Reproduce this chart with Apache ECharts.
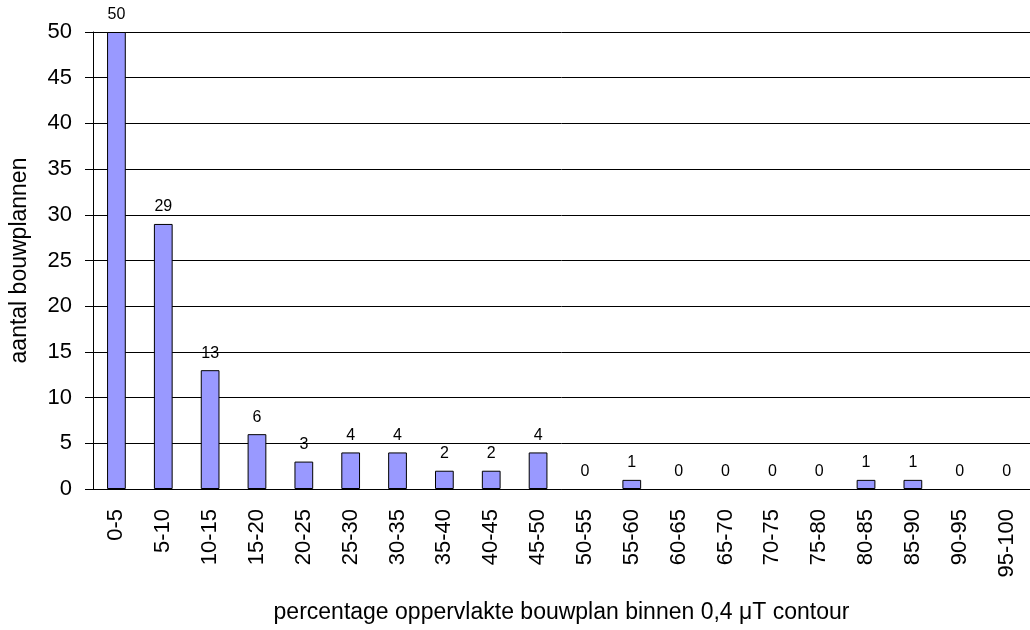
<!DOCTYPE html>
<html>
<head>
<meta charset="utf-8">
<script src="https://cdn.jsdelivr.net/npm/echarts@6/dist/echarts.min.js"></script>
<style>
  html, body { margin: 0; padding: 0; background: #fff; }
  #chart { width: 1030px; height: 630px; }
</style>
</head>
<body>
<div id="chart"></div>
<script>
var categories = ['0-5','5-10','10-15','15-20','20-25','25-30','30-35','35-40','40-45','45-50',
    '50-55','55-60','60-65','65-70','70-75','75-80','80-85','85-90','90-95','95-100'];
var counts = [50, 29, 13, 6, 3, 4, 4, 2, 2, 4, 0, 1, 0, 0, 0, 0, 1, 1, 0, 0];

// zero-height bars get no outline, as in the original
var barData = counts.map(function (v) {
    return v === 0 ? { value: v, itemStyle: { borderWidth: 0 } } : v;
});

var myChart = echarts.init(document.getElementById('chart'));
var font = 'Liberation Sans, Arial, sans-serif';
var option = {
    animation: false,
    textStyle: { fontFamily: font, color: '#000' },
    grid: { left: 93, right: -3, top: 32, bottom: 141 },
    xAxis: {
        type: 'category',
        data: categories,
        name: 'percentage oppervlakte bouwplan binnen 0,4 \u03BCT contour',
        nameLocation: 'middle',
        nameGap: 112,
        nameTextStyle: { fontSize: 23, color: '#000', fontFamily: font },
        axisLine: { lineStyle: { color: '#000', width: 1 } },
        axisTick: { show: false },
        axisLabel: { rotate: 90, interval: 0, margin: 20, fontSize: 22, color: '#000', fontFamily: font }
    },
    yAxis: {
        type: 'value',
        min: 0,
        max: 50,
        interval: 5,
        name: 'aantal bouwplannen',
        nameLocation: 'middle',
        nameGap: 62,
        nameTextStyle: { fontSize: 23, color: '#000', fontFamily: font },
        axisLine: { show: true, lineStyle: { color: '#000', width: 1 } },
        axisTick: { show: true, length: 8, lineStyle: { color: '#000' } },
        axisLabel: { fontSize: 22, margin: 21, color: '#000', fontFamily: font },
        splitLine: { lineStyle: { color: '#000', width: 1 } }
    },
    series: [{
        type: 'bar',
        data: barData,
        barWidth: '40%',
        itemStyle: { color: '#9999FF', borderColor: '#000', borderWidth: 1 },
        label: { show: true, position: 'top', distance: 9, fontSize: 16, color: '#000', fontFamily: font }
    }]
};
myChart.setOption(option);
</script>
</body>
</html>
